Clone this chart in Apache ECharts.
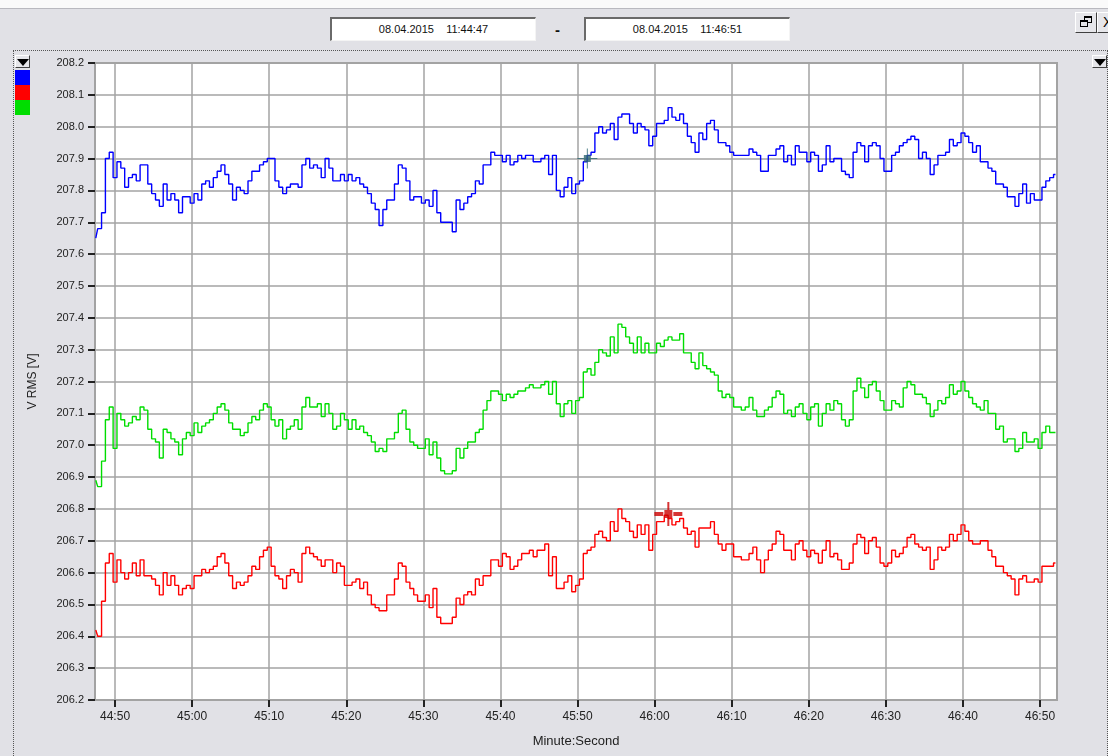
<!DOCTYPE html>
<html>
<head>
<meta charset="utf-8">
<title>V RMS</title>
<script src="https://cdn.jsdelivr.net/npm/echarts@6/dist/echarts.min.js"></script>
<style>
  html, body { margin: 0; padding: 0; }
  body {
    width: 1108px; height: 756px; overflow: hidden; position: relative;
    background: #e1e1e6; font-family: Arial, "Liberation Sans", sans-serif;
  }
  .abs { position: absolute; box-sizing: border-box; }
  #strip { left: 0; top: 0; width: 1108px; height: 9px; background: #fafafa; border-bottom: 1px solid #b9b9bf; }
  .datebox {
    top: 17px; width: 206px; height: 24px; background: #fff;
    border-top: 2px solid #6a6a6a; border-left: 2px solid #6a6a6a;
    border-right: 1px solid #f4f4f4; border-bottom: 1px solid #f4f4f4;
    font-size: 11px; line-height: 21px; text-align: center; white-space: pre; color: #111;
  }
  #dash { left: 555px; top: 21px; font-size: 15px; font-weight: bold; color: #111; }
  #frame { left: 13px; top: 50px; width: 1095px; height: 720px; border-top: 1px dotted #555; border-left: 1px dotted #555; border-right: 1px dotted #555; }
  .btn { background: #e6e6ea; border-top: 1px solid #fff; border-left: 1px solid #fff; border-right: 1px solid #404040; border-bottom: 1px solid #404040; }
  .tri { width: 0; height: 0; border-left: 6px solid transparent; border-right: 6px solid transparent; border-top: 7px solid #000; }
  .swatch { left: 15px; width: 15px; height: 15px; }
  #chart { left: 0; top: 0; width: 1108px; height: 756px; }
</style>
</head>
<body>
<div id="strip" class="abs"></div>
<div class="abs datebox" style="left:330px;">08.04.2015    11:44:47</div>
<div id="dash" class="abs">-</div>
<div class="abs datebox" style="left:584px;">08.04.2015    11:46:51</div>

<!-- window buttons -->
<div class="abs btn" style="left:1075px; top:12px; width:22px; height:21px;">
  <div class="abs" style="left:8px; top:3px; width:8px; height:7px; border:1px solid #000; border-top-width:2px;"></div>
  <div class="abs" style="left:4px; top:7px; width:8px; height:7px; border:1px solid #000; border-top-width:2px; background:#e6e6ea;"></div>
</div>
<div class="abs btn" style="left:1097px; top:12px; width:22px; height:21px; font-size:14px; line-height:18px; padding-left:5px;">X</div>

<div id="frame" class="abs"></div>

<!-- dropdown buttons -->
<div class="abs btn" style="left:15px; top:55px; width:15px; height:13px;"><div class="abs tri" style="left:1px; top:3px;"></div></div>
<div class="abs btn" style="left:1092px; top:55px; width:15px; height:13px;"><div class="abs tri" style="left:1px; top:3px;"></div></div>

<!-- channel colour keys -->
<div class="abs swatch" style="top:70px; background:#0000ff;"></div>
<div class="abs swatch" style="top:85px; background:#ff0000;"></div>
<div class="abs swatch" style="top:100px; background:#00dd00;"></div>

<div id="chart" class="abs"></div>

<script>
// Sampling: one value every 0.5 s, time in seconds after 11:44:00
const sampleStart = 47.5;
const sampleStep = 0.5;

// Phase voltages, V RMS
const blueValues = [
  207.65,207.68,207.73,207.90,207.92,207.84,207.89,207.87,207.81,207.84,207.85,207.83,207.88,207.88,207.82,207.79,207.77,207.75,207.82,207.77,207.79,207.77,207.73,207.78,207.78,207.76,207.79,207.77,207.82,207.83,207.81,207.84,207.86,207.88,207.85,207.82,207.77,207.81,207.80,207.79,207.83,207.86,207.86,207.88,
  207.89,207.90,207.90,207.83,207.81,207.79,207.81,207.82,207.82,207.81,207.88,207.90,207.87,207.88,207.87,207.84,207.90,207.87,207.83,207.83,207.85,207.83,207.85,207.83,207.84,207.82,207.81,207.79,207.76,207.74,207.69,207.74,207.77,207.77,207.82,207.88,207.87,207.83,207.77,207.78,207.78,207.76,
  207.77,207.75,207.80,207.73,207.70,207.70,207.70,207.67,207.77,207.74,207.76,207.78,207.79,207.83,207.82,207.88,207.88,207.92,207.91,207.91,207.89,207.91,207.88,207.89,207.91,207.90,207.91,207.91,207.89,207.89,207.90,207.91,207.85,207.91,207.80,207.78,207.81,207.84,207.79,207.82,207.83,207.89,
  207.91,207.92,207.98,208.00,207.98,207.99,208.01,207.96,208.03,208.04,208.04,208.01,207.98,208.01,208.00,207.99,207.94,207.97,208.01,208.01,208.02,208.06,208.03,208.02,208.04,208.01,207.97,207.95,207.92,207.98,207.96,208.01,208.02,207.99,207.95,207.95,207.94,207.92,207.91,207.91,207.91,207.91,
  207.93,207.92,207.91,207.86,207.86,207.91,207.91,207.93,207.94,207.89,207.91,207.88,207.94,207.92,207.92,207.89,207.92,207.91,207.86,207.88,207.94,207.89,207.90,207.90,207.86,207.85,207.84,207.92,207.95,207.94,207.89,207.94,207.95,207.94,207.90,207.86,207.86,207.91,207.92,207.94,207.95,207.96,
  207.97,207.96,207.90,207.92,207.90,207.85,207.88,207.91,207.91,207.92,207.96,207.94,207.95,207.98,207.97,207.95,207.92,207.94,207.89,207.89,207.87,207.86,207.82,207.82,207.81,207.78,207.78,207.75,207.79,207.82,207.76,207.79,207.77,207.77,207.81,207.83,207.84,207.85
];

const greenValues = [
  206.89,206.87,206.95,207.08,207.12,206.99,207.10,207.08,207.06,207.07,207.09,207.08,207.12,207.11,207.05,207.02,207.01,206.96,207.05,207.04,207.02,207.01,206.97,207.02,207.04,207.03,207.07,207.04,207.06,207.07,207.08,207.10,207.12,207.13,207.11,207.07,207.05,207.05,207.03,207.04,207.07,207.09,207.08,207.11,
  207.13,207.12,207.08,207.06,207.08,207.02,207.05,207.06,207.08,207.05,207.12,207.15,207.12,207.12,207.13,207.09,207.13,207.10,207.05,207.06,207.10,207.08,207.05,207.08,207.05,207.06,207.04,207.03,207.01,206.98,206.99,206.98,207.02,207.02,207.04,207.10,207.11,207.05,207.01,207.00,206.99,206.99,
  207.02,206.97,207.01,206.96,206.92,206.91,206.91,206.92,206.99,206.96,206.99,207.01,207.01,207.04,207.05,207.11,207.14,207.17,207.17,207.16,207.14,207.16,207.15,207.16,207.17,207.17,207.18,207.19,207.18,207.18,207.19,207.20,207.16,207.20,207.13,207.09,207.13,207.14,207.10,207.14,207.15,207.23,
  207.24,207.22,207.26,207.30,207.29,207.28,207.34,207.29,207.38,207.37,207.34,207.32,207.29,207.34,207.29,207.32,207.29,207.29,207.32,207.31,207.33,207.34,207.33,207.33,207.35,207.29,207.29,207.26,207.24,207.29,207.25,207.24,207.23,207.22,207.17,207.15,207.16,207.15,207.12,207.12,207.11,207.12,
  207.15,207.11,207.09,207.09,207.11,207.12,207.15,207.17,207.16,207.10,207.11,207.09,207.12,207.13,207.10,207.08,207.12,207.13,207.06,207.10,207.13,207.11,207.14,207.13,207.08,207.06,207.08,207.17,207.21,207.18,207.15,207.19,207.20,207.17,207.14,207.11,207.11,207.14,207.13,207.12,207.18,207.20,
  207.19,207.16,207.16,207.15,207.13,207.09,207.11,207.14,207.13,207.15,207.19,207.16,207.17,207.20,207.17,207.15,207.13,207.12,207.11,207.14,207.10,207.10,207.05,207.06,207.01,207.02,207.02,206.98,206.99,207.04,207.01,207.01,207.02,206.99,207.04,207.06,207.04,207.04
];

const redValues = [
  206.42,206.40,206.51,206.63,206.66,206.57,206.64,206.60,206.58,206.60,206.63,206.59,206.64,206.59,206.59,206.58,206.56,206.53,206.60,206.56,206.59,206.56,206.53,206.55,206.56,206.55,206.59,206.59,206.61,206.60,206.61,206.62,206.65,206.66,206.63,206.59,206.55,206.57,206.56,206.57,206.59,206.62,206.61,206.65,
  206.67,206.68,206.62,206.59,206.58,206.55,206.59,206.61,206.60,206.57,206.66,206.68,206.66,206.65,206.64,206.62,206.64,206.64,206.60,206.63,206.62,206.56,206.56,206.57,206.58,206.55,206.57,206.53,206.50,206.49,206.48,206.48,206.53,206.53,206.58,206.63,206.62,206.57,206.55,206.53,206.51,206.51,
  206.53,206.49,206.55,206.46,206.44,206.44,206.44,206.46,206.52,206.50,206.53,206.54,206.53,206.58,206.56,206.59,206.59,206.64,206.64,206.62,206.66,206.65,206.61,206.62,206.64,206.66,206.66,206.67,206.65,206.67,206.67,206.69,206.59,206.65,206.55,206.55,206.57,206.59,206.54,206.56,206.58,206.66,
  206.67,206.68,206.72,206.73,206.71,206.70,206.76,206.73,206.80,206.77,206.76,206.73,206.71,206.75,206.72,206.75,206.67,206.72,206.76,206.76,206.78,206.77,206.75,206.76,206.77,206.74,206.72,206.73,206.68,206.74,206.74,206.74,206.76,206.72,206.69,206.67,206.69,206.69,206.65,206.65,206.64,206.64,
  206.66,206.68,206.64,206.60,206.64,206.67,206.69,206.73,206.72,206.67,206.67,206.64,206.69,206.70,206.67,206.65,206.67,206.66,206.63,206.67,206.70,206.65,206.66,206.64,206.61,206.61,206.63,206.69,206.72,206.71,206.66,206.70,206.71,206.68,206.63,206.62,206.63,206.67,206.65,206.66,206.68,206.71,
  206.72,206.69,206.68,206.67,206.68,206.61,206.64,206.68,206.67,206.68,206.72,206.70,206.72,206.75,206.73,206.70,206.69,206.69,206.70,206.70,206.67,206.65,206.62,206.62,206.60,206.59,206.58,206.53,206.58,206.59,206.57,206.57,206.58,206.57,206.62,206.62,206.62,206.63
];

// Cursor positions [time, value]
const blueCursor = [111.27, 207.90];
const redCursor = [121.78, 206.784];

// Axis ranges and tick positions
const timeMin = 47.4, timeMax = 172.2;
const timeTicks = [50, 60, 70, 80, 90, 100, 110, 120, 130, 140, 150, 160, 170];
const voltMin = 206.2, voltMax = 208.2, voltStep = 0.1;

function toPairs(values) {
  return values.map((v, i) => [sampleStart + i * sampleStep, v]);
}
function mmss(t) {
  const total = Math.round(t) + 44 * 60;
  const m = Math.floor(total / 60) % 60;
  const s = total % 60;
  return m + ':' + (s < 10 ? '0' : '') + s;
}

const gridColor = '#a3a3a3';
const chart = echarts.init(document.getElementById('chart'), null, { renderer: 'canvas' });

function lineSeries(name, color, values) {
  return {
    name, type: 'line', step: 'middle', showSymbol: false, silent: true,
    data: toPairs(values),
    lineStyle: { color, width: 1.4 },
    itemStyle: { color }
  };
}

chart.setOption({
  animation: false,
  backgroundColor: 'transparent',
  grid: {
    left: 95, right: 51, top: 63, bottom: 56,
    show: true, backgroundColor: '#ffffff', borderColor: gridColor, borderWidth: 2
  },
  xAxis: {
    type: 'value', min: timeMin, max: timeMax,
    name: 'Minute:Second', nameLocation: 'middle', nameGap: 35,
    nameTextStyle: { fontSize: 13, color: '#222', fontFamily: 'Arial, Liberation Sans' },
    axisLine: { show: true, lineStyle: { color: gridColor, width: 2 } },
    axisTick: { show: true, length: 7, customValues: timeTicks, lineStyle: { color: '#222', width: 2 } },
    axisLabel: { customValues: timeTicks, formatter: mmss, fontSize: 12, color: '#222', margin: 11, fontFamily: 'Arial, Liberation Sans' },
    splitLine: { show: true, lineStyle: { color: gridColor, width: 1.5 } }
  },
  yAxis: {
    type: 'value', min: voltMin, max: voltMax, interval: voltStep,
    name: 'V RMS [V]', nameLocation: 'middle', nameGap: 56, nameRotate: 90,
    nameTextStyle: { fontSize: 12, color: '#222', fontFamily: 'Arial, Liberation Sans' },
    axisLine: { show: true, lineStyle: { color: gridColor, width: 2 } },
    axisTick: { show: true, length: 7, lineStyle: { color: '#222', width: 2 } },
    axisLabel: { formatter: v => v.toFixed(1), fontSize: 11, color: '#222', margin: 11, fontFamily: 'Arial, Liberation Sans' },
    splitLine: { show: true, lineStyle: { color: gridColor, width: 1.5 } }
  },
  series: [
    lineSeries('L1', '#0000ff', blueValues),
    lineSeries('L3', '#00dd00', greenValues),
    lineSeries('L2', '#ff0000', redValues),
    {
      type: 'scatter', silent: true, z: 5,
      data: [blueCursor],
      symbol: 'path://M0 9.5h20v1h-20z M9.5 0h1v20h-1z M6.5 6.5h7v7h-7z',
      symbolSize: [20, 20],
      itemStyle: { color: '#2d6670' }
    },
    {
      type: 'scatter', silent: true, z: 5,
      data: [redCursor],
      symbol: 'path://M0 10h9v4h-9z M19 10h9v4h-9z M10 8h8v8h-8z M13 0h2v8h-2z M13 16h2v8h-2z',
      symbolSize: [28, 24],
      itemStyle: { color: '#cc0000' }
    }
  ]
});
</script>
</body>
</html>
